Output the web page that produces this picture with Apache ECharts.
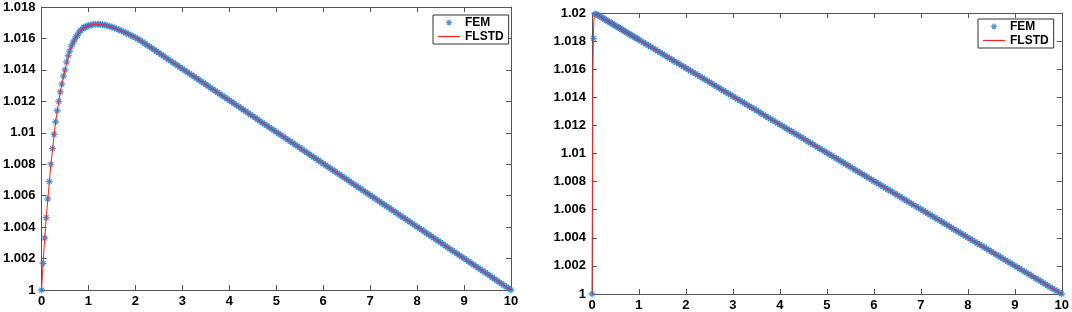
<!DOCTYPE html>
<html>
<head>
<meta charset="utf-8">
<script src="https://cdn.jsdelivr.net/npm/echarts@6/dist/echarts.min.js"></script>
<style>
html,body{margin:0;padding:0;background:#fff;}
#c{width:1072px;height:312px;}
</style>
</head>
<body>
<div id="c"></div>
<script>
// x grid of the FEM samples (shared by both panels): head part (x <= 2.05) and tail part (x >= 2.1)
const femXHead = [0,0.033,0.067,0.1,0.133,0.167,0.2,0.233,0.267,0.3,0.333,0.367,0.4,0.433,0.467,0.5,0.533,0.567,0.6,0.633,0.667,0.7,0.733,0.767,0.8,0.833,0.867,0.9,0.933,0.967,1.0,
1.05,1.1,1.15,1.2,1.25,1.3,1.35,1.4,1.45,1.5,1.55,1.6,1.65,1.7,1.75,1.8,1.85,1.9,1.95,2.0,2.05];
const femXTail = [2.1,2.15,2.2,2.25,2.3,2.35,2.4,2.45,2.5,2.55,2.6,2.65,2.7,2.75,2.8,2.85,2.9,2.95,3.0,3.05,
3.1,3.15,3.2,3.25,3.3,3.35,3.4,3.45,3.5,3.55,3.6,3.65,3.7,3.75,3.8,3.85,3.9,3.95,4.0,4.05,
4.1,4.15,4.2,4.25,4.3,4.35,4.4,4.45,4.5,4.55,4.6,4.65,4.7,4.75,4.8,4.85,4.9,4.95,5.0,5.05,
5.1,5.15,5.2,5.25,5.3,5.35,5.4,5.45,5.5,5.55,5.6,5.65,5.7,5.75,5.8,5.85,5.9,5.95,6.0,6.05,
6.1,6.15,6.2,6.25,6.3,6.35,6.4,6.45,6.5,6.55,6.6,6.65,6.7,6.75,6.8,6.85,6.9,6.95,7.0,7.05,
7.1,7.15,7.2,7.25,7.3,7.35,7.4,7.45,7.5,7.55,7.6,7.65,7.7,7.75,7.8,7.85,7.9,7.95,8.0,8.05,
8.1,8.15,8.2,8.25,8.3,8.35,8.4,8.45,8.5,8.55,8.6,8.65,8.7,8.75,8.8,8.85,8.9,8.95,9.0,9.05,
9.1,9.15,9.2,9.25,9.3,9.35,9.4,9.45,9.5,9.55,9.6,9.65,9.7,9.75,9.8,9.85,9.9,9.95,10.0];

// Left panel FEM values for femXHead
const femLeftHead = [1.0000,1.0017,1.0033,1.0046,1.0058,1.0069,1.0080,1.0090,1.0099,1.0107,1.0114,1.0120,1.0126,1.0131,1.0136,1.0140,1.0145,1.0149,1.0152,1.0155,1.0157,1.0159,1.0161,1.0162,1.0164,1.0165,1.0166,1.0167,1.0167,1.0168,1.0168,
1.01685,1.01690,1.01690,1.01690,1.01690,1.01688,1.01685,1.01681,1.01677,1.01672,1.01667,1.01661,1.01655,1.01649,1.01642,1.01635,1.01628,1.01621,1.01613,1.01605,1.01597];

// Right panel FEM values for femXHead
const femRightHead = [1.00000,1.01820,1.01993,1.01990,1.01983,1.01977,1.01970,1.01963,1.01956,1.01950,1.01943,1.01936,1.01930,1.01923,1.01916,1.01910,1.01903,1.01896,1.01890,1.01883,1.01876,1.01869,1.01863,1.01856,1.01849,1.01843,1.01836,1.01829,1.01823,1.01816,1.01809,
1.01799,1.01789,1.01779,1.01769,1.01759,1.01749,1.01739,1.01729,1.01719,1.01709,1.01699,1.01688,1.01678,1.01668,1.01658,1.01648,1.01638,1.01628,1.01618,1.01608,1.01598];

// FEM values for femXTail (both panels overlap there)
const femTail = [1.01588,1.01578,1.01568,1.01558,1.01548,1.01538,1.01528,1.01518,1.01508,1.01498,1.01487,1.01477,1.01467,1.01457,1.01447,1.01437,1.01427,1.01417,1.01407,1.01397,
1.01387,1.01377,1.01367,1.01357,1.01347,1.01337,1.01327,1.01317,1.01307,1.01297,1.01286,1.01276,1.01266,1.01256,1.01246,1.01236,1.01226,1.01216,1.01206,1.01196,
1.01186,1.01176,1.01166,1.01156,1.01146,1.01136,1.01126,1.01116,1.01106,1.01096,1.01085,1.01075,1.01065,1.01055,1.01045,1.01035,1.01025,1.01015,1.01005,1.00995,
1.00985,1.00975,1.00965,1.00955,1.00945,1.00935,1.00925,1.00915,1.00905,1.00895,1.00884,1.00874,1.00864,1.00854,1.00844,1.00834,1.00824,1.00814,1.00804,1.00794,
1.00784,1.00774,1.00764,1.00754,1.00744,1.00734,1.00724,1.00714,1.00704,1.00694,1.00683,1.00673,1.00663,1.00653,1.00643,1.00633,1.00623,1.00613,1.00603,1.00593,
1.00583,1.00573,1.00563,1.00553,1.00543,1.00533,1.00523,1.00513,1.00503,1.00493,1.00482,1.00472,1.00462,1.00452,1.00442,1.00432,1.00422,1.00412,1.00402,1.00392,
1.00382,1.00372,1.00362,1.00352,1.00342,1.00332,1.00322,1.00312,1.00302,1.00292,1.00281,1.00271,1.00261,1.00251,1.00241,1.00231,1.00221,1.00211,1.00201,1.00191,
1.00181,1.00171,1.00161,1.00151,1.00141,1.00131,1.00121,1.00111,1.00101,1.00091,1.00080,1.00070,1.00060,1.00050,1.00040,1.00030,1.00020,1.00010,1.00000];

// FLSTD curves
const flstdLeftX = [0,0.02,0.05,0.1,0.15,0.2,0.3,0.4,0.5,0.6,0.7,0.8,0.9,1.0,1.1,1.2,1.3,1.4,1.5,1.6,1.8,2.0,2.2,2.5,3,4,5,6,7,8,9,10];
const flstdLeftY = [1.0,1.0010,1.0025,1.0046,1.0063,1.0080,1.0107,1.0126,1.0140,1.0152,1.0159,1.0164,1.0167,1.0168,1.0169,1.0169,1.01688,1.01681,1.01672,1.01661,1.01635,1.01605,1.01568,1.01508,1.01407,1.01206,1.01005,1.00804,1.00603,1.00402,1.00201,1.0];
const flstdRightX = [0,0.005,0.01,0.015,0.02,0.03,0.04,0.05,0.07,0.1,1,2,3,4,5,6,7,8,9,10];
const flstdRightY = [1.0,1.004,1.009,1.013,1.016,1.0185,1.0194,1.0198,1.0199,1.0199,1.01809,1.01608,1.01407,1.01206,1.01005,1.00804,1.00603,1.00402,1.00201,1.0];

const seriesNames = ['FEM','FLSTD'];
const xTicks = {min:0, max:10, interval:1};
const yLeft = {min:1, max:1.018, interval:0.002};
const yRight = {min:1, max:1.02, interval:0.002};

const zip = (xs, ys) => xs.map((x, i) => [x, ys[i]]);
const femX = femXHead.concat(femXTail);
const femLeftY = femLeftHead.concat(femTail);
const femRightY = femRightHead.concat(femTail);

const FONT = "'Liberation Sans', Arial, Helvetica, sans-serif";
const AXIS_COLOR = '#555';
const BLUE = '#2a7fd0';
const RED = '#ff2020';
const STAR = 'path://M5 0L5 10M0 5L10 5M1.6 1.6L8.4 8.4M8.4 1.6L1.6 8.4';
const LINE_ICON = 'path://M0 0H22V1.2H0Z';

function xAx(gridIndex, position, showLabel) {
  return {
    type: 'value', gridIndex, position, min: xTicks.min, max: xTicks.max, interval: xTicks.interval,
    axisLine: {show: true, onZero: false, lineStyle: {color: AXIS_COLOR, width: 1}},
    axisTick: {show: true, inside: true, length: 5, lineStyle: {color: AXIS_COLOR}},
    axisLabel: {show: showLabel, color: '#000', fontWeight: 'bold', fontSize: 13, fontFamily: FONT, margin: 5},
    splitLine: {show: false}
  };
}
function yAx(gridIndex, position, showLabel, r) {
  return {
    type: 'value', gridIndex, position, min: r.min, max: r.max, interval: r.interval,
    axisLine: {show: true, onZero: false, lineStyle: {color: AXIS_COLOR, width: 1}},
    axisTick: {show: true, inside: true, length: 5, lineStyle: {color: AXIS_COLOR}},
    axisLabel: {show: showLabel, color: '#000', fontWeight: 'bold', fontSize: 13, fontFamily: FONT, margin: 6,
      formatter: v => String(parseFloat(v.toFixed(3)))},
    splitLine: {show: false}
  };
}
function femSeries(xi, yi, data) {
  return {
    name: seriesNames[0], type: 'scatter', xAxisIndex: xi, yAxisIndex: yi, data,
    symbol: STAR, symbolSize: 7, symbolKeepAspect: true,
    itemStyle: {color: 'rgba(0,0,0,0)', borderColor: BLUE, borderWidth: 1.3},
    emphasis: {disabled: true}, z: 2, animation: false
  };
}
function lineSeries(xi, yi, data) {
  return {
    name: seriesNames[1], type: 'line', xAxisIndex: xi, yAxisIndex: yi, data,
    showSymbol: false, symbol: 'none', lineStyle: {color: RED, width: 1}, itemStyle: {color: RED},
    z: 3, animation: false
  };
}
function legend(left, top) {
  return {
    left, top, orient: 'vertical', padding: [1, 5, 1, 5], itemGap: 1, itemWidth: 22, itemHeight: 6,
    borderColor: '#333', borderWidth: 1, backgroundColor: '#fff',
    textStyle: {color: '#000', fontWeight: 'bold', fontSize: 12, fontFamily: FONT, lineHeight: 13},
    data: [
      {name: seriesNames[0], icon: STAR, itemStyle: {color: 'rgba(0,0,0,0)', borderColor: BLUE, borderWidth: 1.2}},
      {name: seriesNames[1], icon: LINE_ICON, itemStyle: {color: RED, borderWidth: 0}}
    ],
    selectedMode: false
  };
}

const chart = echarts.init(document.getElementById('c'), null, {renderer: 'canvas'});
chart.setOption({
  animation: false,
  backgroundColor: '#fff',
  grid: [
    {left: 39, top: 7, width: 472, height: 283},
    {left: 592, top: 13, width: 472, height: 282}
  ],
  xAxis: [xAx(0, 'bottom', true), xAx(0, 'top', false), xAx(1, 'bottom', true), xAx(1, 'top', false)],
  yAxis: [yAx(0, 'left', true, yLeft), yAx(0, 'right', false, yLeft), yAx(1, 'left', true, yRight), yAx(1, 'right', false, yRight)],
  legend: [legend(433, 15), legend(978, 19)],
  series: [
    femSeries(0, 0, zip(femX, femLeftY)),
    lineSeries(0, 0, zip(flstdLeftX, flstdLeftY)),
    femSeries(2, 2, zip(femX, femRightY)),
    lineSeries(2, 2, zip(flstdRightX, flstdRightY))
  ]
});
</script>
</body>
</html>
